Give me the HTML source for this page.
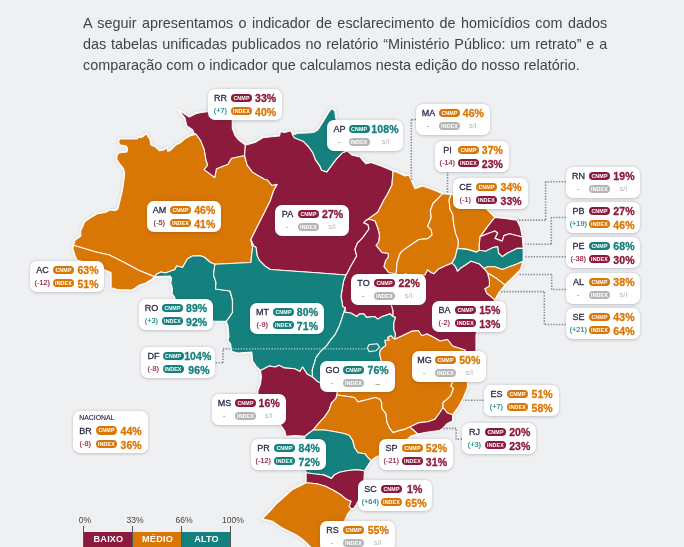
<!DOCTYPE html><html><head><meta charset="utf-8"><title>Mapa</title><style>
*{margin:0;padding:0;box-sizing:border-box}
html,body{width:684px;height:547px;overflow:hidden;background:#eef0f2}
body{position:relative;font-family:"Liberation Sans",sans-serif;color:#333}
.intro{position:absolute;left:82.9px;top:12.9px;width:524.2px;font-size:14.4px;line-height:21px;color:#404347;will-change:transform;text-align:justify}
.intro .l{display:block;white-space:nowrap;text-align:justify;text-align-last:justify}
.intro .l.last{text-align-last:left}
.map{position:absolute;left:0;top:0}
.lb{position:absolute;will-change:transform;background:#fff;border-radius:7px;box-shadow:0 .8px 3px rgba(55,55,75,.26)}
.lb span{position:absolute;white-space:nowrap;line-height:1}
.st{left:2.5px;width:20px;text-align:center;font-size:9px;color:#2c2a4a;letter-spacing:.05px;line-height:10px!important;-webkit-text-stroke:.28px #2c2a4a}
.pl{left:23px;width:21px;height:8.8px;border-radius:4.4px;color:#fff;font-size:5.3px;font-weight:bold;text-align:center;line-height:9px!important;letter-spacing:.15px}
.vl{right:1.4px;width:30px;text-align:center;padding-left:.1px;font-size:10.5px;font-weight:bold;letter-spacing:.1px;line-height:12px!important;-webkit-text-stroke:.3px currentColor}
.dl{left:2.3px;width:20px;text-align:center;font-size:7.3px;line-height:9px!important;-webkit-text-stroke:.15px currentColor}
.si{right:2px;width:30px;text-align:center;font-size:7.6px;color:#b7b7b7;line-height:9px!important}
.nat{left:6.2px;top:4.2px;font-size:6.9px;color:#2c2a4a;letter-spacing:0;-webkit-text-stroke:.15px #2c2a4a}
.lg{will-change:transform;position:absolute;font-size:8.6px;color:#444;top:514.6px;line-height:10px;width:30px;margin-left:-15px;text-align:center}
.tick{position:absolute;top:526px;width:1px;height:21px;background:#555}
.bar{will-change:transform;position:absolute;top:532px;height:15px;color:#fff;font-weight:bold;font-size:9.1px;line-height:14.2px;text-align:center;letter-spacing:.2px}
</style></head><body>
<div class="intro"><span class="l">A seguir apresentamos o indicador de esclarecimento de homic&iacute;dios com dados</span><span class="l">das tabelas unificadas publicados no relat&oacute;rio &ldquo;Minist&eacute;rio P&uacute;blico: um retrato&rdquo; e a</span><span class="l last">compara&ccedil;&atilde;o com o indicador que calculamos nesta edi&ccedil;&atilde;o do nosso relat&oacute;rio.</span></div>
<svg class="map" width="684" height="547" viewBox="0 0 684 547"><defs><filter id="sh" x="-5%" y="-5%" width="110%" height="110%"><feGaussianBlur stdDeviation="1.2"/></filter></defs><g fill="#c9ccd0" stroke="#c9ccd0" stroke-width="3.6" stroke-linejoin="round" filter="url(#sh)" opacity="0.55"><polygon points="73.5,245.3 75.2,240 81,236 80.5,231.3 82.8,226.6 84.6,221.9 90.4,217.8 97.4,213.7 105.6,212.5 109.1,210.2 112,210.2 115,210.8 117.9,209 119.6,202 121.4,195 122.5,190 124,180 124.6,173 123.4,168.3 120.5,164.8 117,160 117,155.4 118.7,153 126.9,151.9 127.5,148.4 126.3,146 119.9,144.9 118.7,142 119.3,139 129.2,139 137.4,139 138.6,136.7 140.4,137.6 142.7,136.7 146.2,133.8 148,136.7 149.7,139 150.9,144.9 155,146.6 159.6,150.7 163.7,150 166.7,147.8 167.8,151.3 170.2,150.7 176,144.9 180,143 185,138.8 191,135.4 196.3,134.5 200.7,140.6 204.2,149.4 206,160 207.7,165.2 204.2,169.6 214.7,177.5 216.5,168.7 227.9,164.3 231.4,158.2 244.6,155.5 247.2,165.2 252.5,172.2 264.7,179.2 267.5,180 271.9,185.3 277.2,184.4 273.7,190.5 270.2,201 263.2,215 256.1,229.1 250.9,239.6 252.6,247.5 251.8,253.7 250.9,262.5 235.1,263.3 214.9,264.2 210.5,262.5 204.4,257.2 200,255.6 192.5,256 187.5,258.8 182.5,267.5 180,266.7 176.6,266 174.9,269.6 171.3,270.8 165.5,273 160.8,272 157.3,273.7 154.4,276.6 138.6,270.2 123.4,262 109.4,255 95.1,251.7 83.4,248.2"/><polygon points="196.3,134.5 193.7,132.7 192.8,130 186.7,125.7 185,117.8 178,110 184,113.4 189.3,117 196.3,113.4 201.6,112.5 207.7,111.7 213,108 220,106 228,108 231,114 232.3,120.4 232.3,128.3 234.9,135.4 238.4,139.7 245.4,145 244.6,155.5 231.4,158.2 227.9,164.3 216.5,168.7 214.7,177.5 204.2,169.6 207.7,165.2 206,160 204.2,149.4 200.7,140.6"/><polygon points="73.5,245.3 72.9,248.8 75.2,255.8 77,260 87.5,263 95,265 105,270 111.1,272.5 111.1,287.7 117.5,289.5 131.6,290 135,288.3 138.6,285.4 145.6,283 151.5,279.6 154.4,276.6 138.6,270.2 123.4,262 109.4,255 95.1,251.7 83.4,248.2"/><polygon points="214.9,264.2 210.5,262.5 204.4,257.2 200,255.6 192.5,256 187.5,258.8 182.5,267.5 180,266.7 176.6,266 174.9,269.6 171.3,270.8 165.5,273 160.8,272 157.3,273.7 154.4,276.6 170.2,276 171.6,278.4 170.8,283 172.5,289 172,293.6 174.9,297.7 176,305 185,313 195,318 205,320 213.8,321 226.3,321.4 228.9,317.9 232.5,312.5 232.5,300 230,291 215.5,289 216,282.5 213.5,275"/><polygon points="245.4,145 247,144.7 255.8,142.1 262.8,137.7 271.6,136.8 279.5,136 280.4,131.6 284.7,132.5 290.9,130.7 292.6,135 294.4,137.7 303.2,141.2 308.4,146.5 312.8,152.6 315.4,159.6 319.8,165.8 321.6,170.2 326.8,171.9 331.2,165.8 336.5,158.8 342.6,152.6 347,150.9 352.3,155.3 360,157 362,159.5 366,163.8 371,162.5 381,166 393,171 392,185 387,195 383.9,200 377.7,212.3 369,218.4 366,220.5 363.7,222.8 368,224.6 369,229 362.8,237.7 357.5,243 355,249 356.7,256 350.5,266.7 347,273.7 346,275 320,273 270.2,269.5 264.9,266 259.6,260.7 257,255.4 256.1,247.5 253.5,245.8 250.9,239.6 256.1,229.1 263.2,215 270.2,201 273.7,190.5 277.2,184.4 271.9,185.3 267.5,180 264.7,179.2 252.5,172.2 247.2,165.2 244.6,155.5"/><polygon points="292.6,135 297.9,133.3 306.7,133 313.7,132.5 318,129.8 322.5,122.8 327.7,114 331.2,108.8 334.7,110.5 335.6,117.5 338,125 342,135 347,145 347,150.9 342.6,152.6 336.5,158.8 331.2,165.8 326.8,171.9 321.6,170.2 319.8,165.8 315.4,159.6 312.8,152.6 308.4,146.5 303.2,141.2 294.4,137.7"/><polygon points="393,171 397.5,172.5 405,176 408.8,175 415,188.8 422.5,186 433.8,190 442.5,193.8 436.5,200 433,203.5 430.4,210.5 431.2,217.5 427.7,226.3 431.2,229.8 432.1,235 427.7,238.6 419,239.5 413.7,243 402.3,250.9 399.6,254.4 397,263 396.1,273.7 389,272.8 383.9,266.7 385.6,260.5 388.2,257 388.2,253.5 382,252.6 376,245.3 378.6,242 379.5,235 377.7,228 375,221 369,219.3 366,220.5 369,218.4 377.7,212.3 383.9,200 387,195 392,185"/><polygon points="442.5,193.8 451,194.5 449.1,200 450,209.1 452.8,214.6 453.7,223.8 455.5,232.9 458.3,240.2 458.3,245.7 457.4,248.4 455,257.9 451.9,263.1 445,266 438.2,269.3 433.8,273.8 431.2,272.8 427.5,270 425,275 415,276 405,274 399,277 396.1,273.7 397,263 399.6,254.4 402.3,250.9 413.7,243 419,239.5 427.7,238.6 432.1,235 431.2,229.8 427.7,226.3 431.2,217.5 430.4,210.5 433,203.5 436.5,200"/><polygon points="451,194.5 460,197 470,202 478,205 485.7,208.2 494.8,217.4 488.4,225.6 483,232.9 480.2,236.6 479.3,243.9 479.3,250.3 476.6,252.1 467.4,249.4 457.4,248.4 458.3,245.7 458.3,240.2 455.5,232.9 453.7,223.8 452.8,214.6 450,209.1 449.1,200"/><polygon points="494.8,217.4 505,218.5 516.8,220.1 520.4,227.4 522.3,237 509.5,233.8 504,235.6 502.2,241.1 494.8,238.4 497.6,232.9 494.8,231 487.5,233.8 480.2,236.6 483,232.9 488.4,225.6"/><polygon points="480.2,236.6 487.5,233.8 494.8,231 497.6,232.9 494.8,238.4 502.2,241.1 504,235.6 509.5,233.8 522.3,237 523.2,248.4 516.8,248.4 507.6,253 502.2,256.7 498.5,253 497.6,246.6 493,247.5 485.7,251.2 479.3,250.3 479.3,243.9"/><polygon points="457.4,248.4 467.4,249.4 476.6,252.1 479.3,250.3 485.7,251.2 493,247.5 497.6,246.6 498.5,253 502.2,256.7 507.6,253 516.8,248.4 523.2,248.4 523.2,261.2 516.8,264 509.5,266.7 502.2,269.5 494.8,266.7 487.5,266.7 483.9,268.6 479.3,264 471.1,261.2 465.6,264.9 460.1,268.6 457.4,271.3 455.5,266.7 451.9,263.1 455,257.9"/><polygon points="483.9,268.6 487.5,266.7 494.8,266.7 502.2,269.5 509.5,266.7 516.8,264 523.2,261.2 520.4,269.5 513.1,276.8 504.9,285 496.7,278.6 487.5,273.1 485.7,270.4"/><polygon points="487.5,273.1 496.7,278.6 504.9,285 498.5,293.2 494.8,300 491.2,296.9 486.6,293.2 484.8,288.7 489.4,285.9 489.4,280.4"/><polygon points="399,277 405,274 415,276 425,275 427.5,270 431.2,272.8 433.8,273.8 438.2,269.3 445,266 451.9,263.1 455.5,266.7 457.4,271.3 460.1,268.6 465.6,264.9 471.1,261.2 479.3,264 483.9,268.6 485.7,270.4 487.5,273.1 489.4,280.4 489.4,285.9 484.8,288.7 486.6,293.2 491.2,296.9 494.8,300 491,306 484,315 478,327 476,335 476,350 473.8,362 470,372 467.5,381 458,379 462,372 468,360 465,350 452.5,346 447.5,339.5 440,341 434,337.5 427,334 421.8,335.8 418.2,330.5 411.2,331.4 402.5,335.8 394.6,339.3 395.4,334 393.7,329.6 393.7,322.6 395.4,317.4 392.8,316.5 392.8,310.4 391,304.2 394,295 397,285"/><polygon points="366,220.5 369,219.3 375,221 377.7,228 379.5,235 378.6,242 376,245.3 382,252.6 388.2,253.5 388.2,257 385.6,260.5 383.9,266.7 389,272.8 396.1,273.7 399,277 397,285 394,295 391,304.2 392.8,310.4 392.8,316.5 390.2,313.9 382.3,316.5 377.9,319.1 374.4,316.5 366.5,317.4 363.9,313.9 359.5,313.9 356.8,316.5 350.7,313 344.6,312.1 345.4,307.7 342.8,306.8 341,296.3 342,290 343.7,280.5 346,275 347,273.7 350.5,266.7 356.7,256 355,249 357.5,243 362.8,237.7 369,229 368,224.6 363.7,222.8"/><polygon points="214.9,264.2 235.1,263.3 250.9,262.5 251.8,253.7 252.6,247.5 250.9,239.6 253.5,245.8 256.1,247.5 257,255.4 259.6,260.7 264.9,266 270.2,269.5 320,273 346,275 343.7,280.5 342,290 341,296.3 342.8,306.8 345.4,307.7 342.8,315.6 339.3,326.1 334.9,334.9 330.5,340.2 327,345.4 320.2,351.8 315.8,357.9 314.9,361.4 312.3,369.6 312.5,377 307,374 302.6,367 300,371.4 294.7,368.8 284.2,367.9 278.9,365.3 275.4,367 269.3,366.1 260.5,370.5 256.1,366.1 252.6,360.9 251.8,352.1 237.7,353 231.6,351.2 230.7,344.2 228,340.7 228.9,336.3 228,325.8 226.3,321.4 228.9,317.9 232.5,312.5 232.5,300 230,291 215.5,289 216,282.5 213.5,275"/><polygon points="345.4,307.7 344.6,312.1 350.7,313 356.8,316.5 359.5,313.9 363.9,313.9 366.5,317.4 374.4,316.5 377.9,319.1 382.3,316.5 390.2,313.9 392.8,316.5 395.4,317.4 393.7,322.6 393.7,329.6 395.4,334 394.6,339.3 391,335.8 387.5,337.5 389.3,340.2 384.9,340.2 385.8,345.4 380.5,349.8 379.6,354.2 381.4,361.2 378,368 370,376 360,383 350,387 343,389 338,389 333,388.5 327,386.5 322,384 317.5,381.6 312.5,377 312.3,369.6 314.9,361.4 315.8,357.9 320.2,351.8 327,345.4 330.5,340.2 334.9,334.9 339.3,326.1 342.8,315.6"/><polygon points="260.5,370.5 269.3,366.1 275.4,367 278.9,365.3 284.2,367.9 294.7,368.8 300,371.4 302.6,367 307,374 312.5,377 317.5,381.6 322,384 327,386.5 333,388.5 338,389 336.8,395 336,398.4 331.6,402.8 328.9,410.7 324.6,416.8 317.5,424.7 313.2,430 309,433 305,436.2 296,435.5 286,436.2 284.8,431 279.8,423.8 270,418 262,410 258,400 257.9,390.7 260.5,383.7 261.4,376.7"/><polygon points="394.6,339.3 402.5,335.8 411.2,331.4 418.2,330.5 421.8,335.8 427,334 434,337.5 440,341 447.5,339.5 452.5,346 465,350 468,360 462,372 458,379 452.6,382.3 450.9,385.8 453.5,388.4 450.9,395.4 446.5,399.8 443,402.5 443,407.7 439.5,413 435.1,419.1 428,421.8 419.3,422.6 409.6,427 405.3,429.1 398.2,430.9 393,432.6 389.5,428.2 386.8,422.1 386,414.2 381.6,408.1 381.6,402.8 379.8,399.3 375.4,397.5 364.9,400.2 357.9,401.9 354.4,397.5 343,395.8 336.8,395 338,389 343,389 350,387 360,383 370,376 378,368 381.4,361.2 379.6,354.2 380.5,349.8 385.8,345.4 384.9,340.2 389.3,340.2 387.5,337.5 391,335.8"/><polygon points="443,407.7 443,402.5 446.5,399.8 450.9,395.4 453.5,388.4 450.9,385.8 452.6,382.3 458,379 467.5,381 467.5,387.5 463.2,398 457.9,407.7 452.6,414.7 447.4,413"/><polygon points="409.6,427 419.3,422.6 428,421.8 435.1,419.1 439.5,413 443,407.7 447.4,413 452.6,414.7 452.6,420.9 447.4,423.5 442.1,428.8 439.5,430.5 426.3,432.3 417.5,434 414,430.5"/><polygon points="336.8,395 343,395.8 354.4,397.5 357.9,401.9 364.9,400.2 375.4,397.5 379.8,399.3 381.6,402.8 381.6,408.1 386,414.2 386.8,422.1 389.5,428.2 393,432.6 398.2,430.9 405.3,429.1 409.6,427 414,430.5 417.5,434 411,436 405,441 395,448 385,453 375.4,457.2 371,460.7 367.5,457.2 364.9,453.7 357.9,452.8 354.4,447.5 352.6,440.5 349.1,435.3 343.9,433.5 335.1,431.8 324.6,430 313.2,430 317.5,424.7 324.6,416.8 328.9,410.7 331.6,402.8 336,398.4"/><polygon points="305,436.2 309,433 313.2,430 324.6,430 335.1,431.8 343.9,433.5 349.1,435.3 352.6,440.5 354.4,447.5 357.9,452.8 364.9,453.7 367.5,457.2 371,460.7 367.5,466 364.5,470.8 357,469.6 348.2,470.5 339.5,472.3 334.2,474.9 331.6,478.4 323.7,474.9 314.9,474 306.1,472.8 305,465 305,455 304,445"/><polygon points="306.1,472.8 314.9,474 323.7,474.9 331.6,478.4 334.2,474.9 339.5,472.3 348.2,470.5 357,469.6 364.5,470.8 364,479.3 362,490 358.5,500 356.1,504.7 353.8,508.4 351.5,508.8 349.1,506.5 350.9,501.2 346.5,499.5 341.2,495.1 334.2,490.7 325.4,486.3 316.7,483.7 306.1,482.8"/><polygon points="306.1,482.8 316.7,483.7 325.4,486.3 334.2,490.7 341.2,495.1 346.5,499.5 350.9,501.2 349.1,506.5 351.5,508.8 347.4,514.4 344.7,520.5 338,530 332,542 327,560 312,560 310.5,547 306.1,542.5 300.9,538 295.6,534.6 286.8,530.2 281.6,527.5 278.9,525.8 272.8,521.4 262.3,518.8 271,510 276.3,503.9 283.3,497.7 292.1,489.8 300.9,485.4"/></g><g fill="#fbfbfc" stroke="#fbfbfc" stroke-width="2.6" stroke-linejoin="round"><polygon points="73.5,245.3 75.2,240 81,236 80.5,231.3 82.8,226.6 84.6,221.9 90.4,217.8 97.4,213.7 105.6,212.5 109.1,210.2 112,210.2 115,210.8 117.9,209 119.6,202 121.4,195 122.5,190 124,180 124.6,173 123.4,168.3 120.5,164.8 117,160 117,155.4 118.7,153 126.9,151.9 127.5,148.4 126.3,146 119.9,144.9 118.7,142 119.3,139 129.2,139 137.4,139 138.6,136.7 140.4,137.6 142.7,136.7 146.2,133.8 148,136.7 149.7,139 150.9,144.9 155,146.6 159.6,150.7 163.7,150 166.7,147.8 167.8,151.3 170.2,150.7 176,144.9 180,143 185,138.8 191,135.4 196.3,134.5 200.7,140.6 204.2,149.4 206,160 207.7,165.2 204.2,169.6 214.7,177.5 216.5,168.7 227.9,164.3 231.4,158.2 244.6,155.5 247.2,165.2 252.5,172.2 264.7,179.2 267.5,180 271.9,185.3 277.2,184.4 273.7,190.5 270.2,201 263.2,215 256.1,229.1 250.9,239.6 252.6,247.5 251.8,253.7 250.9,262.5 235.1,263.3 214.9,264.2 210.5,262.5 204.4,257.2 200,255.6 192.5,256 187.5,258.8 182.5,267.5 180,266.7 176.6,266 174.9,269.6 171.3,270.8 165.5,273 160.8,272 157.3,273.7 154.4,276.6 138.6,270.2 123.4,262 109.4,255 95.1,251.7 83.4,248.2"/><polygon points="196.3,134.5 193.7,132.7 192.8,130 186.7,125.7 185,117.8 178,110 184,113.4 189.3,117 196.3,113.4 201.6,112.5 207.7,111.7 213,108 220,106 228,108 231,114 232.3,120.4 232.3,128.3 234.9,135.4 238.4,139.7 245.4,145 244.6,155.5 231.4,158.2 227.9,164.3 216.5,168.7 214.7,177.5 204.2,169.6 207.7,165.2 206,160 204.2,149.4 200.7,140.6"/><polygon points="73.5,245.3 72.9,248.8 75.2,255.8 77,260 87.5,263 95,265 105,270 111.1,272.5 111.1,287.7 117.5,289.5 131.6,290 135,288.3 138.6,285.4 145.6,283 151.5,279.6 154.4,276.6 138.6,270.2 123.4,262 109.4,255 95.1,251.7 83.4,248.2"/><polygon points="214.9,264.2 210.5,262.5 204.4,257.2 200,255.6 192.5,256 187.5,258.8 182.5,267.5 180,266.7 176.6,266 174.9,269.6 171.3,270.8 165.5,273 160.8,272 157.3,273.7 154.4,276.6 170.2,276 171.6,278.4 170.8,283 172.5,289 172,293.6 174.9,297.7 176,305 185,313 195,318 205,320 213.8,321 226.3,321.4 228.9,317.9 232.5,312.5 232.5,300 230,291 215.5,289 216,282.5 213.5,275"/><polygon points="245.4,145 247,144.7 255.8,142.1 262.8,137.7 271.6,136.8 279.5,136 280.4,131.6 284.7,132.5 290.9,130.7 292.6,135 294.4,137.7 303.2,141.2 308.4,146.5 312.8,152.6 315.4,159.6 319.8,165.8 321.6,170.2 326.8,171.9 331.2,165.8 336.5,158.8 342.6,152.6 347,150.9 352.3,155.3 360,157 362,159.5 366,163.8 371,162.5 381,166 393,171 392,185 387,195 383.9,200 377.7,212.3 369,218.4 366,220.5 363.7,222.8 368,224.6 369,229 362.8,237.7 357.5,243 355,249 356.7,256 350.5,266.7 347,273.7 346,275 320,273 270.2,269.5 264.9,266 259.6,260.7 257,255.4 256.1,247.5 253.5,245.8 250.9,239.6 256.1,229.1 263.2,215 270.2,201 273.7,190.5 277.2,184.4 271.9,185.3 267.5,180 264.7,179.2 252.5,172.2 247.2,165.2 244.6,155.5"/><polygon points="292.6,135 297.9,133.3 306.7,133 313.7,132.5 318,129.8 322.5,122.8 327.7,114 331.2,108.8 334.7,110.5 335.6,117.5 338,125 342,135 347,145 347,150.9 342.6,152.6 336.5,158.8 331.2,165.8 326.8,171.9 321.6,170.2 319.8,165.8 315.4,159.6 312.8,152.6 308.4,146.5 303.2,141.2 294.4,137.7"/><polygon points="393,171 397.5,172.5 405,176 408.8,175 415,188.8 422.5,186 433.8,190 442.5,193.8 436.5,200 433,203.5 430.4,210.5 431.2,217.5 427.7,226.3 431.2,229.8 432.1,235 427.7,238.6 419,239.5 413.7,243 402.3,250.9 399.6,254.4 397,263 396.1,273.7 389,272.8 383.9,266.7 385.6,260.5 388.2,257 388.2,253.5 382,252.6 376,245.3 378.6,242 379.5,235 377.7,228 375,221 369,219.3 366,220.5 369,218.4 377.7,212.3 383.9,200 387,195 392,185"/><polygon points="442.5,193.8 451,194.5 449.1,200 450,209.1 452.8,214.6 453.7,223.8 455.5,232.9 458.3,240.2 458.3,245.7 457.4,248.4 455,257.9 451.9,263.1 445,266 438.2,269.3 433.8,273.8 431.2,272.8 427.5,270 425,275 415,276 405,274 399,277 396.1,273.7 397,263 399.6,254.4 402.3,250.9 413.7,243 419,239.5 427.7,238.6 432.1,235 431.2,229.8 427.7,226.3 431.2,217.5 430.4,210.5 433,203.5 436.5,200"/><polygon points="451,194.5 460,197 470,202 478,205 485.7,208.2 494.8,217.4 488.4,225.6 483,232.9 480.2,236.6 479.3,243.9 479.3,250.3 476.6,252.1 467.4,249.4 457.4,248.4 458.3,245.7 458.3,240.2 455.5,232.9 453.7,223.8 452.8,214.6 450,209.1 449.1,200"/><polygon points="494.8,217.4 505,218.5 516.8,220.1 520.4,227.4 522.3,237 509.5,233.8 504,235.6 502.2,241.1 494.8,238.4 497.6,232.9 494.8,231 487.5,233.8 480.2,236.6 483,232.9 488.4,225.6"/><polygon points="480.2,236.6 487.5,233.8 494.8,231 497.6,232.9 494.8,238.4 502.2,241.1 504,235.6 509.5,233.8 522.3,237 523.2,248.4 516.8,248.4 507.6,253 502.2,256.7 498.5,253 497.6,246.6 493,247.5 485.7,251.2 479.3,250.3 479.3,243.9"/><polygon points="457.4,248.4 467.4,249.4 476.6,252.1 479.3,250.3 485.7,251.2 493,247.5 497.6,246.6 498.5,253 502.2,256.7 507.6,253 516.8,248.4 523.2,248.4 523.2,261.2 516.8,264 509.5,266.7 502.2,269.5 494.8,266.7 487.5,266.7 483.9,268.6 479.3,264 471.1,261.2 465.6,264.9 460.1,268.6 457.4,271.3 455.5,266.7 451.9,263.1 455,257.9"/><polygon points="483.9,268.6 487.5,266.7 494.8,266.7 502.2,269.5 509.5,266.7 516.8,264 523.2,261.2 520.4,269.5 513.1,276.8 504.9,285 496.7,278.6 487.5,273.1 485.7,270.4"/><polygon points="487.5,273.1 496.7,278.6 504.9,285 498.5,293.2 494.8,300 491.2,296.9 486.6,293.2 484.8,288.7 489.4,285.9 489.4,280.4"/><polygon points="399,277 405,274 415,276 425,275 427.5,270 431.2,272.8 433.8,273.8 438.2,269.3 445,266 451.9,263.1 455.5,266.7 457.4,271.3 460.1,268.6 465.6,264.9 471.1,261.2 479.3,264 483.9,268.6 485.7,270.4 487.5,273.1 489.4,280.4 489.4,285.9 484.8,288.7 486.6,293.2 491.2,296.9 494.8,300 491,306 484,315 478,327 476,335 476,350 473.8,362 470,372 467.5,381 458,379 462,372 468,360 465,350 452.5,346 447.5,339.5 440,341 434,337.5 427,334 421.8,335.8 418.2,330.5 411.2,331.4 402.5,335.8 394.6,339.3 395.4,334 393.7,329.6 393.7,322.6 395.4,317.4 392.8,316.5 392.8,310.4 391,304.2 394,295 397,285"/><polygon points="366,220.5 369,219.3 375,221 377.7,228 379.5,235 378.6,242 376,245.3 382,252.6 388.2,253.5 388.2,257 385.6,260.5 383.9,266.7 389,272.8 396.1,273.7 399,277 397,285 394,295 391,304.2 392.8,310.4 392.8,316.5 390.2,313.9 382.3,316.5 377.9,319.1 374.4,316.5 366.5,317.4 363.9,313.9 359.5,313.9 356.8,316.5 350.7,313 344.6,312.1 345.4,307.7 342.8,306.8 341,296.3 342,290 343.7,280.5 346,275 347,273.7 350.5,266.7 356.7,256 355,249 357.5,243 362.8,237.7 369,229 368,224.6 363.7,222.8"/><polygon points="214.9,264.2 235.1,263.3 250.9,262.5 251.8,253.7 252.6,247.5 250.9,239.6 253.5,245.8 256.1,247.5 257,255.4 259.6,260.7 264.9,266 270.2,269.5 320,273 346,275 343.7,280.5 342,290 341,296.3 342.8,306.8 345.4,307.7 342.8,315.6 339.3,326.1 334.9,334.9 330.5,340.2 327,345.4 320.2,351.8 315.8,357.9 314.9,361.4 312.3,369.6 312.5,377 307,374 302.6,367 300,371.4 294.7,368.8 284.2,367.9 278.9,365.3 275.4,367 269.3,366.1 260.5,370.5 256.1,366.1 252.6,360.9 251.8,352.1 237.7,353 231.6,351.2 230.7,344.2 228,340.7 228.9,336.3 228,325.8 226.3,321.4 228.9,317.9 232.5,312.5 232.5,300 230,291 215.5,289 216,282.5 213.5,275"/><polygon points="345.4,307.7 344.6,312.1 350.7,313 356.8,316.5 359.5,313.9 363.9,313.9 366.5,317.4 374.4,316.5 377.9,319.1 382.3,316.5 390.2,313.9 392.8,316.5 395.4,317.4 393.7,322.6 393.7,329.6 395.4,334 394.6,339.3 391,335.8 387.5,337.5 389.3,340.2 384.9,340.2 385.8,345.4 380.5,349.8 379.6,354.2 381.4,361.2 378,368 370,376 360,383 350,387 343,389 338,389 333,388.5 327,386.5 322,384 317.5,381.6 312.5,377 312.3,369.6 314.9,361.4 315.8,357.9 320.2,351.8 327,345.4 330.5,340.2 334.9,334.9 339.3,326.1 342.8,315.6"/><polygon points="260.5,370.5 269.3,366.1 275.4,367 278.9,365.3 284.2,367.9 294.7,368.8 300,371.4 302.6,367 307,374 312.5,377 317.5,381.6 322,384 327,386.5 333,388.5 338,389 336.8,395 336,398.4 331.6,402.8 328.9,410.7 324.6,416.8 317.5,424.7 313.2,430 309,433 305,436.2 296,435.5 286,436.2 284.8,431 279.8,423.8 270,418 262,410 258,400 257.9,390.7 260.5,383.7 261.4,376.7"/><polygon points="394.6,339.3 402.5,335.8 411.2,331.4 418.2,330.5 421.8,335.8 427,334 434,337.5 440,341 447.5,339.5 452.5,346 465,350 468,360 462,372 458,379 452.6,382.3 450.9,385.8 453.5,388.4 450.9,395.4 446.5,399.8 443,402.5 443,407.7 439.5,413 435.1,419.1 428,421.8 419.3,422.6 409.6,427 405.3,429.1 398.2,430.9 393,432.6 389.5,428.2 386.8,422.1 386,414.2 381.6,408.1 381.6,402.8 379.8,399.3 375.4,397.5 364.9,400.2 357.9,401.9 354.4,397.5 343,395.8 336.8,395 338,389 343,389 350,387 360,383 370,376 378,368 381.4,361.2 379.6,354.2 380.5,349.8 385.8,345.4 384.9,340.2 389.3,340.2 387.5,337.5 391,335.8"/><polygon points="443,407.7 443,402.5 446.5,399.8 450.9,395.4 453.5,388.4 450.9,385.8 452.6,382.3 458,379 467.5,381 467.5,387.5 463.2,398 457.9,407.7 452.6,414.7 447.4,413"/><polygon points="409.6,427 419.3,422.6 428,421.8 435.1,419.1 439.5,413 443,407.7 447.4,413 452.6,414.7 452.6,420.9 447.4,423.5 442.1,428.8 439.5,430.5 426.3,432.3 417.5,434 414,430.5"/><polygon points="336.8,395 343,395.8 354.4,397.5 357.9,401.9 364.9,400.2 375.4,397.5 379.8,399.3 381.6,402.8 381.6,408.1 386,414.2 386.8,422.1 389.5,428.2 393,432.6 398.2,430.9 405.3,429.1 409.6,427 414,430.5 417.5,434 411,436 405,441 395,448 385,453 375.4,457.2 371,460.7 367.5,457.2 364.9,453.7 357.9,452.8 354.4,447.5 352.6,440.5 349.1,435.3 343.9,433.5 335.1,431.8 324.6,430 313.2,430 317.5,424.7 324.6,416.8 328.9,410.7 331.6,402.8 336,398.4"/><polygon points="305,436.2 309,433 313.2,430 324.6,430 335.1,431.8 343.9,433.5 349.1,435.3 352.6,440.5 354.4,447.5 357.9,452.8 364.9,453.7 367.5,457.2 371,460.7 367.5,466 364.5,470.8 357,469.6 348.2,470.5 339.5,472.3 334.2,474.9 331.6,478.4 323.7,474.9 314.9,474 306.1,472.8 305,465 305,455 304,445"/><polygon points="306.1,472.8 314.9,474 323.7,474.9 331.6,478.4 334.2,474.9 339.5,472.3 348.2,470.5 357,469.6 364.5,470.8 364,479.3 362,490 358.5,500 356.1,504.7 353.8,508.4 351.5,508.8 349.1,506.5 350.9,501.2 346.5,499.5 341.2,495.1 334.2,490.7 325.4,486.3 316.7,483.7 306.1,482.8"/><polygon points="306.1,482.8 316.7,483.7 325.4,486.3 334.2,490.7 341.2,495.1 346.5,499.5 350.9,501.2 349.1,506.5 351.5,508.8 347.4,514.4 344.7,520.5 338,530 332,542 327,560 312,560 310.5,547 306.1,542.5 300.9,538 295.6,534.6 286.8,530.2 281.6,527.5 278.9,525.8 272.8,521.4 262.3,518.8 271,510 276.3,503.9 283.3,497.7 292.1,489.8 300.9,485.4"/></g><g stroke="#fdf6f2" stroke-width="1.15" stroke-linejoin="round"><polygon fill="#d97706" points="73.5,245.3 75.2,240 81,236 80.5,231.3 82.8,226.6 84.6,221.9 90.4,217.8 97.4,213.7 105.6,212.5 109.1,210.2 112,210.2 115,210.8 117.9,209 119.6,202 121.4,195 122.5,190 124,180 124.6,173 123.4,168.3 120.5,164.8 117,160 117,155.4 118.7,153 126.9,151.9 127.5,148.4 126.3,146 119.9,144.9 118.7,142 119.3,139 129.2,139 137.4,139 138.6,136.7 140.4,137.6 142.7,136.7 146.2,133.8 148,136.7 149.7,139 150.9,144.9 155,146.6 159.6,150.7 163.7,150 166.7,147.8 167.8,151.3 170.2,150.7 176,144.9 180,143 185,138.8 191,135.4 196.3,134.5 200.7,140.6 204.2,149.4 206,160 207.7,165.2 204.2,169.6 214.7,177.5 216.5,168.7 227.9,164.3 231.4,158.2 244.6,155.5 247.2,165.2 252.5,172.2 264.7,179.2 267.5,180 271.9,185.3 277.2,184.4 273.7,190.5 270.2,201 263.2,215 256.1,229.1 250.9,239.6 252.6,247.5 251.8,253.7 250.9,262.5 235.1,263.3 214.9,264.2 210.5,262.5 204.4,257.2 200,255.6 192.5,256 187.5,258.8 182.5,267.5 180,266.7 176.6,266 174.9,269.6 171.3,270.8 165.5,273 160.8,272 157.3,273.7 154.4,276.6 138.6,270.2 123.4,262 109.4,255 95.1,251.7 83.4,248.2"/><polygon fill="#8c1a3c" points="196.3,134.5 193.7,132.7 192.8,130 186.7,125.7 185,117.8 178,110 184,113.4 189.3,117 196.3,113.4 201.6,112.5 207.7,111.7 213,108 220,106 228,108 231,114 232.3,120.4 232.3,128.3 234.9,135.4 238.4,139.7 245.4,145 244.6,155.5 231.4,158.2 227.9,164.3 216.5,168.7 214.7,177.5 204.2,169.6 207.7,165.2 206,160 204.2,149.4 200.7,140.6"/><polygon fill="#d97706" points="73.5,245.3 72.9,248.8 75.2,255.8 77,260 87.5,263 95,265 105,270 111.1,272.5 111.1,287.7 117.5,289.5 131.6,290 135,288.3 138.6,285.4 145.6,283 151.5,279.6 154.4,276.6 138.6,270.2 123.4,262 109.4,255 95.1,251.7 83.4,248.2"/><polygon fill="#14817f" points="214.9,264.2 210.5,262.5 204.4,257.2 200,255.6 192.5,256 187.5,258.8 182.5,267.5 180,266.7 176.6,266 174.9,269.6 171.3,270.8 165.5,273 160.8,272 157.3,273.7 154.4,276.6 170.2,276 171.6,278.4 170.8,283 172.5,289 172,293.6 174.9,297.7 176,305 185,313 195,318 205,320 213.8,321 226.3,321.4 228.9,317.9 232.5,312.5 232.5,300 230,291 215.5,289 216,282.5 213.5,275"/><polygon fill="#8c1a3c" points="245.4,145 247,144.7 255.8,142.1 262.8,137.7 271.6,136.8 279.5,136 280.4,131.6 284.7,132.5 290.9,130.7 292.6,135 294.4,137.7 303.2,141.2 308.4,146.5 312.8,152.6 315.4,159.6 319.8,165.8 321.6,170.2 326.8,171.9 331.2,165.8 336.5,158.8 342.6,152.6 347,150.9 352.3,155.3 360,157 362,159.5 366,163.8 371,162.5 381,166 393,171 392,185 387,195 383.9,200 377.7,212.3 369,218.4 366,220.5 363.7,222.8 368,224.6 369,229 362.8,237.7 357.5,243 355,249 356.7,256 350.5,266.7 347,273.7 346,275 320,273 270.2,269.5 264.9,266 259.6,260.7 257,255.4 256.1,247.5 253.5,245.8 250.9,239.6 256.1,229.1 263.2,215 270.2,201 273.7,190.5 277.2,184.4 271.9,185.3 267.5,180 264.7,179.2 252.5,172.2 247.2,165.2 244.6,155.5"/><polygon fill="#14817f" points="292.6,135 297.9,133.3 306.7,133 313.7,132.5 318,129.8 322.5,122.8 327.7,114 331.2,108.8 334.7,110.5 335.6,117.5 338,125 342,135 347,145 347,150.9 342.6,152.6 336.5,158.8 331.2,165.8 326.8,171.9 321.6,170.2 319.8,165.8 315.4,159.6 312.8,152.6 308.4,146.5 303.2,141.2 294.4,137.7"/><polygon fill="#d97706" points="393,171 397.5,172.5 405,176 408.8,175 415,188.8 422.5,186 433.8,190 442.5,193.8 436.5,200 433,203.5 430.4,210.5 431.2,217.5 427.7,226.3 431.2,229.8 432.1,235 427.7,238.6 419,239.5 413.7,243 402.3,250.9 399.6,254.4 397,263 396.1,273.7 389,272.8 383.9,266.7 385.6,260.5 388.2,257 388.2,253.5 382,252.6 376,245.3 378.6,242 379.5,235 377.7,228 375,221 369,219.3 366,220.5 369,218.4 377.7,212.3 383.9,200 387,195 392,185"/><polygon fill="#d97706" points="442.5,193.8 451,194.5 449.1,200 450,209.1 452.8,214.6 453.7,223.8 455.5,232.9 458.3,240.2 458.3,245.7 457.4,248.4 455,257.9 451.9,263.1 445,266 438.2,269.3 433.8,273.8 431.2,272.8 427.5,270 425,275 415,276 405,274 399,277 396.1,273.7 397,263 399.6,254.4 402.3,250.9 413.7,243 419,239.5 427.7,238.6 432.1,235 431.2,229.8 427.7,226.3 431.2,217.5 430.4,210.5 433,203.5 436.5,200"/><polygon fill="#d97706" points="451,194.5 460,197 470,202 478,205 485.7,208.2 494.8,217.4 488.4,225.6 483,232.9 480.2,236.6 479.3,243.9 479.3,250.3 476.6,252.1 467.4,249.4 457.4,248.4 458.3,245.7 458.3,240.2 455.5,232.9 453.7,223.8 452.8,214.6 450,209.1 449.1,200"/><polygon fill="#8c1a3c" points="494.8,217.4 505,218.5 516.8,220.1 520.4,227.4 522.3,237 509.5,233.8 504,235.6 502.2,241.1 494.8,238.4 497.6,232.9 494.8,231 487.5,233.8 480.2,236.6 483,232.9 488.4,225.6"/><polygon fill="#8c1a3c" points="480.2,236.6 487.5,233.8 494.8,231 497.6,232.9 494.8,238.4 502.2,241.1 504,235.6 509.5,233.8 522.3,237 523.2,248.4 516.8,248.4 507.6,253 502.2,256.7 498.5,253 497.6,246.6 493,247.5 485.7,251.2 479.3,250.3 479.3,243.9"/><polygon fill="#14817f" points="457.4,248.4 467.4,249.4 476.6,252.1 479.3,250.3 485.7,251.2 493,247.5 497.6,246.6 498.5,253 502.2,256.7 507.6,253 516.8,248.4 523.2,248.4 523.2,261.2 516.8,264 509.5,266.7 502.2,269.5 494.8,266.7 487.5,266.7 483.9,268.6 479.3,264 471.1,261.2 465.6,264.9 460.1,268.6 457.4,271.3 455.5,266.7 451.9,263.1 455,257.9"/><polygon fill="#d97706" points="483.9,268.6 487.5,266.7 494.8,266.7 502.2,269.5 509.5,266.7 516.8,264 523.2,261.2 520.4,269.5 513.1,276.8 504.9,285 496.7,278.6 487.5,273.1 485.7,270.4"/><polygon fill="#d97706" points="487.5,273.1 496.7,278.6 504.9,285 498.5,293.2 494.8,300 491.2,296.9 486.6,293.2 484.8,288.7 489.4,285.9 489.4,280.4"/><polygon fill="#8c1a3c" points="399,277 405,274 415,276 425,275 427.5,270 431.2,272.8 433.8,273.8 438.2,269.3 445,266 451.9,263.1 455.5,266.7 457.4,271.3 460.1,268.6 465.6,264.9 471.1,261.2 479.3,264 483.9,268.6 485.7,270.4 487.5,273.1 489.4,280.4 489.4,285.9 484.8,288.7 486.6,293.2 491.2,296.9 494.8,300 491,306 484,315 478,327 476,335 476,350 473.8,362 470,372 467.5,381 458,379 462,372 468,360 465,350 452.5,346 447.5,339.5 440,341 434,337.5 427,334 421.8,335.8 418.2,330.5 411.2,331.4 402.5,335.8 394.6,339.3 395.4,334 393.7,329.6 393.7,322.6 395.4,317.4 392.8,316.5 392.8,310.4 391,304.2 394,295 397,285"/><polygon fill="#8c1a3c" points="366,220.5 369,219.3 375,221 377.7,228 379.5,235 378.6,242 376,245.3 382,252.6 388.2,253.5 388.2,257 385.6,260.5 383.9,266.7 389,272.8 396.1,273.7 399,277 397,285 394,295 391,304.2 392.8,310.4 392.8,316.5 390.2,313.9 382.3,316.5 377.9,319.1 374.4,316.5 366.5,317.4 363.9,313.9 359.5,313.9 356.8,316.5 350.7,313 344.6,312.1 345.4,307.7 342.8,306.8 341,296.3 342,290 343.7,280.5 346,275 347,273.7 350.5,266.7 356.7,256 355,249 357.5,243 362.8,237.7 369,229 368,224.6 363.7,222.8"/><polygon fill="#14817f" points="214.9,264.2 235.1,263.3 250.9,262.5 251.8,253.7 252.6,247.5 250.9,239.6 253.5,245.8 256.1,247.5 257,255.4 259.6,260.7 264.9,266 270.2,269.5 320,273 346,275 343.7,280.5 342,290 341,296.3 342.8,306.8 345.4,307.7 342.8,315.6 339.3,326.1 334.9,334.9 330.5,340.2 327,345.4 320.2,351.8 315.8,357.9 314.9,361.4 312.3,369.6 312.5,377 307,374 302.6,367 300,371.4 294.7,368.8 284.2,367.9 278.9,365.3 275.4,367 269.3,366.1 260.5,370.5 256.1,366.1 252.6,360.9 251.8,352.1 237.7,353 231.6,351.2 230.7,344.2 228,340.7 228.9,336.3 228,325.8 226.3,321.4 228.9,317.9 232.5,312.5 232.5,300 230,291 215.5,289 216,282.5 213.5,275"/><polygon fill="#14817f" points="345.4,307.7 344.6,312.1 350.7,313 356.8,316.5 359.5,313.9 363.9,313.9 366.5,317.4 374.4,316.5 377.9,319.1 382.3,316.5 390.2,313.9 392.8,316.5 395.4,317.4 393.7,322.6 393.7,329.6 395.4,334 394.6,339.3 391,335.8 387.5,337.5 389.3,340.2 384.9,340.2 385.8,345.4 380.5,349.8 379.6,354.2 381.4,361.2 378,368 370,376 360,383 350,387 343,389 338,389 333,388.5 327,386.5 322,384 317.5,381.6 312.5,377 312.3,369.6 314.9,361.4 315.8,357.9 320.2,351.8 327,345.4 330.5,340.2 334.9,334.9 339.3,326.1 342.8,315.6"/><polygon fill="#8c1a3c" points="260.5,370.5 269.3,366.1 275.4,367 278.9,365.3 284.2,367.9 294.7,368.8 300,371.4 302.6,367 307,374 312.5,377 317.5,381.6 322,384 327,386.5 333,388.5 338,389 336.8,395 336,398.4 331.6,402.8 328.9,410.7 324.6,416.8 317.5,424.7 313.2,430 309,433 305,436.2 296,435.5 286,436.2 284.8,431 279.8,423.8 270,418 262,410 258,400 257.9,390.7 260.5,383.7 261.4,376.7"/><polygon fill="#d97706" points="394.6,339.3 402.5,335.8 411.2,331.4 418.2,330.5 421.8,335.8 427,334 434,337.5 440,341 447.5,339.5 452.5,346 465,350 468,360 462,372 458,379 452.6,382.3 450.9,385.8 453.5,388.4 450.9,395.4 446.5,399.8 443,402.5 443,407.7 439.5,413 435.1,419.1 428,421.8 419.3,422.6 409.6,427 405.3,429.1 398.2,430.9 393,432.6 389.5,428.2 386.8,422.1 386,414.2 381.6,408.1 381.6,402.8 379.8,399.3 375.4,397.5 364.9,400.2 357.9,401.9 354.4,397.5 343,395.8 336.8,395 338,389 343,389 350,387 360,383 370,376 378,368 381.4,361.2 379.6,354.2 380.5,349.8 385.8,345.4 384.9,340.2 389.3,340.2 387.5,337.5 391,335.8"/><polygon fill="#d97706" points="443,407.7 443,402.5 446.5,399.8 450.9,395.4 453.5,388.4 450.9,385.8 452.6,382.3 458,379 467.5,381 467.5,387.5 463.2,398 457.9,407.7 452.6,414.7 447.4,413"/><polygon fill="#8c1a3c" points="409.6,427 419.3,422.6 428,421.8 435.1,419.1 439.5,413 443,407.7 447.4,413 452.6,414.7 452.6,420.9 447.4,423.5 442.1,428.8 439.5,430.5 426.3,432.3 417.5,434 414,430.5"/><polygon fill="#d97706" points="336.8,395 343,395.8 354.4,397.5 357.9,401.9 364.9,400.2 375.4,397.5 379.8,399.3 381.6,402.8 381.6,408.1 386,414.2 386.8,422.1 389.5,428.2 393,432.6 398.2,430.9 405.3,429.1 409.6,427 414,430.5 417.5,434 411,436 405,441 395,448 385,453 375.4,457.2 371,460.7 367.5,457.2 364.9,453.7 357.9,452.8 354.4,447.5 352.6,440.5 349.1,435.3 343.9,433.5 335.1,431.8 324.6,430 313.2,430 317.5,424.7 324.6,416.8 328.9,410.7 331.6,402.8 336,398.4"/><polygon fill="#14817f" points="305,436.2 309,433 313.2,430 324.6,430 335.1,431.8 343.9,433.5 349.1,435.3 352.6,440.5 354.4,447.5 357.9,452.8 364.9,453.7 367.5,457.2 371,460.7 367.5,466 364.5,470.8 357,469.6 348.2,470.5 339.5,472.3 334.2,474.9 331.6,478.4 323.7,474.9 314.9,474 306.1,472.8 305,465 305,455 304,445"/><polygon fill="#8c1a3c" points="306.1,472.8 314.9,474 323.7,474.9 331.6,478.4 334.2,474.9 339.5,472.3 348.2,470.5 357,469.6 364.5,470.8 364,479.3 362,490 358.5,500 356.1,504.7 353.8,508.4 351.5,508.8 349.1,506.5 350.9,501.2 346.5,499.5 341.2,495.1 334.2,490.7 325.4,486.3 316.7,483.7 306.1,482.8"/><polygon fill="#d97706" points="306.1,482.8 316.7,483.7 325.4,486.3 334.2,490.7 341.2,495.1 346.5,499.5 350.9,501.2 349.1,506.5 351.5,508.8 347.4,514.4 344.7,520.5 338,530 332,542 327,560 312,560 310.5,547 306.1,542.5 300.9,538 295.6,534.6 286.8,530.2 281.6,527.5 278.9,525.8 272.8,521.4 262.3,518.8 271,510 276.3,503.9 283.3,497.7 292.1,489.8 300.9,485.4"/><polygon fill="#14817f" points="369.1,344.6 377,343.7 379.6,347.2 376.1,350.7 369.1,351.6 367.4,348.1"/></g><g fill="none" stroke="#83859a" stroke-width="1.6" stroke-dasharray="1.35 1.45"><line x1="416" y1="119.5" x2="411.3" y2="119.5"/><line x1="411.3" y1="119.5" x2="411.3" y2="180"/><line x1="447.5" y1="171.5" x2="447.5" y2="192.5"/><line x1="565.9" y1="181.8" x2="545.6" y2="181.8"/><line x1="545.6" y1="181.8" x2="545.6" y2="220.1"/><line x1="545.6" y1="220.1" x2="517" y2="220.1"/><line x1="565.9" y1="217.5" x2="551.3" y2="217.5"/><line x1="551.3" y1="217.5" x2="551.3" y2="244.2"/><line x1="551.3" y1="244.2" x2="525.5" y2="244.2"/><line x1="565.9" y1="256.7" x2="525.5" y2="256.7"/><line x1="565.9" y1="289.5" x2="551.7" y2="289.5"/><line x1="551.7" y1="289.5" x2="551.7" y2="274.5"/><line x1="551.7" y1="274.5" x2="518" y2="274.5"/><line x1="565.9" y1="324.5" x2="544.3" y2="324.5"/><line x1="544.3" y1="324.5" x2="544.3" y2="291.6"/><line x1="544.3" y1="291.6" x2="500.5" y2="291.6"/><line x1="483.5" y1="400.2" x2="463.5" y2="400.2"/><line x1="461.8" y1="439.3" x2="456.1" y2="439.3"/><line x1="456.1" y1="439.3" x2="456.1" y2="428.4"/><line x1="456.1" y1="428.4" x2="443" y2="428.4"/><line x1="215.6" y1="362.8" x2="223" y2="362.8"/><line x1="223" y1="362.8" x2="223" y2="348.9"/><line x1="223" y1="348.9" x2="229.5" y2="348.9"/></g><path fill="none" stroke="#a5d3cf" stroke-width="1.25" stroke-dasharray="1.35 1.45" d="M229.5,348.9 H367.5"/></svg>
<div class="lb" style="left:207.9px;top:89.4px;width:74px;height:30.7px"><span class="st" style="top:3.8px">RR</span><span class="pl" style="top:4.5px;background:#8c1a3c">CNMP</span><span class="vl" style="top:3.2px;color:#8c1a3c">33%</span><span class="dl" style="top:17.4px;color:#14817f">(+7)</span><span class="pl" style="top:17.7px;background:#d97706">INDEX</span><span class="vl" style="top:17.3px;color:#d97706">40%</span></div><div class="lb" style="left:327px;top:119.7px;width:75.5px;height:30.7px"><span class="st" style="top:3.8px">AP</span><span class="pl" style="left:21.6px;top:4.5px;background:#14817f">CNMP</span><span class="vl" style="margin-right:1.2px;top:3.2px;color:#14817f">108%</span><span class="dl" style="top:16.6px;color:#b8b8b8;font-weight:bold">-</span><span class="pl" style="left:21.6px;top:17.7px;background:#b5b5b5">INDEX</span><span class="si" style="top:17.4px">s/i</span></div><div class="lb" style="left:416.25px;top:104.25px;width:73.75px;height:30.7px"><span class="st" style="top:3.8px">MA</span><span class="pl" style="top:4.5px;background:#d97706">CNMP</span><span class="vl" style="top:3.2px;color:#d97706">46%</span><span class="dl" style="top:16.6px;color:#b8b8b8;font-weight:bold">-</span><span class="pl" style="top:17.7px;background:#b5b5b5">INDEX</span><span class="si" style="top:17.4px">s/i</span></div><div class="lb" style="left:435px;top:140.75px;width:73.75px;height:30.7px"><span class="st" style="top:3.8px">PI</span><span class="pl" style="top:4.5px;background:#d97706">CNMP</span><span class="vl" style="top:3.2px;color:#d97706">37%</span><span class="dl" style="top:17.4px;color:#8c1a3c">(-14)</span><span class="pl" style="top:17.7px;background:#8c1a3c">INDEX</span><span class="vl" style="top:17.3px;color:#8c1a3c">23%</span></div><div class="lb" style="left:452.5px;top:177.7px;width:74.5px;height:30.7px"><span class="st" style="top:3.8px">CE</span><span class="pl" style="top:4.5px;background:#d97706">CNMP</span><span class="vl" style="top:3.2px;color:#d97706">34%</span><span class="dl" style="top:17.4px;color:#8c1a3c">(-1)</span><span class="pl" style="top:17.7px;background:#8c1a3c">INDEX</span><span class="vl" style="top:17.3px;color:#8c1a3c">33%</span></div><div class="lb" style="left:565.9px;top:166.5px;width:74.3px;height:30.7px"><span class="st" style="top:3.8px">RN</span><span class="pl" style="top:4.5px;background:#8c1a3c">CNMP</span><span class="vl" style="top:3.2px;color:#8c1a3c">19%</span><span class="dl" style="top:16.6px;color:#b8b8b8;font-weight:bold">-</span><span class="pl" style="top:17.7px;background:#b5b5b5">INDEX</span><span class="si" style="top:17.4px">s/i</span></div><div class="lb" style="left:565.9px;top:201.75px;width:74.3px;height:30.7px"><span class="st" style="top:3.8px">PB</span><span class="pl" style="top:4.5px;background:#8c1a3c">CNMP</span><span class="vl" style="top:3.2px;color:#8c1a3c">27%</span><span class="dl" style="top:17.4px;color:#14817f">(+19)</span><span class="pl" style="top:17.7px;background:#d97706">INDEX</span><span class="vl" style="top:17.3px;color:#d97706">46%</span></div><div class="lb" style="left:565.9px;top:237px;width:74.3px;height:30.7px"><span class="st" style="top:3.8px">PE</span><span class="pl" style="top:4.5px;background:#14817f">CNMP</span><span class="vl" style="top:3.2px;color:#14817f">68%</span><span class="dl" style="top:17.4px;color:#8c1a3c">(-38)</span><span class="pl" style="top:17.7px;background:#8c1a3c">INDEX</span><span class="vl" style="top:17.3px;color:#8c1a3c">30%</span></div><div class="lb" style="left:565.9px;top:272.5px;width:74.3px;height:30.7px"><span class="st" style="top:3.8px">AL</span><span class="pl" style="top:4.5px;background:#d97706">CNMP</span><span class="vl" style="top:3.2px;color:#d97706">38%</span><span class="dl" style="top:16.6px;color:#b8b8b8;font-weight:bold">-</span><span class="pl" style="top:17.7px;background:#b5b5b5">INDEX</span><span class="si" style="top:17.4px">s/i</span></div><div class="lb" style="left:565.9px;top:307.75px;width:74.3px;height:30.7px"><span class="st" style="top:3.8px">SE</span><span class="pl" style="top:4.5px;background:#d97706">CNMP</span><span class="vl" style="top:3.2px;color:#d97706">43%</span><span class="dl" style="top:17.4px;color:#14817f">(+21)</span><span class="pl" style="top:17.7px;background:#d97706">INDEX</span><span class="vl" style="top:17.3px;color:#d97706">64%</span></div><div class="lb" style="left:147px;top:200.6px;width:74.2px;height:30.7px"><span class="st" style="top:3.8px">AM</span><span class="pl" style="top:4.5px;background:#d97706">CNMP</span><span class="vl" style="top:3.2px;color:#d97706">46%</span><span class="dl" style="top:17.4px;color:#8c1a3c">(-5)</span><span class="pl" style="top:17.7px;background:#d97706">INDEX</span><span class="vl" style="top:17.3px;color:#d97706">41%</span></div><div class="lb" style="left:275px;top:205px;width:74px;height:30.7px"><span class="st" style="top:3.8px">PA</span><span class="pl" style="top:4.5px;background:#8c1a3c">CNMP</span><span class="vl" style="top:3.2px;color:#8c1a3c">27%</span><span class="dl" style="top:16.6px;color:#b8b8b8;font-weight:bold">-</span><span class="pl" style="top:17.7px;background:#b5b5b5">INDEX</span><span class="si" style="top:17.4px">s/i</span></div><div class="lb" style="left:30.2px;top:261.2px;width:74.4px;height:30.7px"><span class="st" style="top:3.8px">AC</span><span class="pl" style="top:4.5px;background:#d97706">CNMP</span><span class="vl" style="top:3.2px;color:#d97706">63%</span><span class="dl" style="top:17.4px;color:#8c1a3c">(-12)</span><span class="pl" style="top:17.7px;background:#d97706">INDEX</span><span class="vl" style="top:17.3px;color:#d97706">51%</span></div><div class="lb" style="left:139px;top:298.6px;width:74px;height:30.7px"><span class="st" style="top:3.8px">RO</span><span class="pl" style="top:4.5px;background:#14817f">CNMP</span><span class="vl" style="top:3.2px;color:#14817f">89%</span><span class="dl" style="top:17.4px;color:#14817f">(+3)</span><span class="pl" style="top:17.7px;background:#14817f">INDEX</span><span class="vl" style="top:17.3px;color:#14817f">92%</span></div><div class="lb" style="left:249.8px;top:302.9px;width:73.8px;height:30.7px"><span class="st" style="top:3.8px">MT</span><span class="pl" style="top:4.5px;background:#14817f">CNMP</span><span class="vl" style="top:3.2px;color:#14817f">80%</span><span class="dl" style="top:17.4px;color:#8c1a3c">(-9)</span><span class="pl" style="top:17.7px;background:#14817f">INDEX</span><span class="vl" style="top:17.3px;color:#14817f">71%</span></div><div class="lb" style="left:351.2px;top:274px;width:74.6px;height:30.7px"><span class="st" style="top:3.8px">TO</span><span class="pl" style="top:4.5px;background:#8c1a3c">CNMP</span><span class="vl" style="top:3.2px;color:#8c1a3c">22%</span><span class="dl" style="top:16.6px;color:#b8b8b8;font-weight:bold">-</span><span class="pl" style="top:17.7px;background:#b5b5b5">INDEX</span><span class="si" style="top:17.4px">s/i</span></div><div class="lb" style="left:431.8px;top:301px;width:74.2px;height:30.7px"><span class="st" style="top:3.8px">BA</span><span class="pl" style="top:4.5px;background:#8c1a3c">CNMP</span><span class="vl" style="top:3.2px;color:#8c1a3c">15%</span><span class="dl" style="top:17.4px;color:#8c1a3c">(-2)</span><span class="pl" style="top:17.7px;background:#8c1a3c">INDEX</span><span class="vl" style="top:17.3px;color:#8c1a3c">13%</span></div><div class="lb" style="left:141.3px;top:347.2px;width:74.3px;height:30.7px"><span class="st" style="top:3.8px">DF</span><span class="pl" style="left:21.6px;top:4.5px;background:#14817f">CNMP</span><span class="vl" style="margin-right:1.2px;top:3.2px;color:#14817f">104%</span><span class="dl" style="top:17.4px;color:#8c1a3c">(-8)</span><span class="pl" style="left:21.6px;top:17.7px;background:#14817f">INDEX</span><span class="vl" style="top:17.3px;color:#14817f">96%</span></div><div class="lb" style="left:320.3px;top:360.6px;width:74.5px;height:30.7px"><span class="st" style="top:3.8px">GO</span><span class="pl" style="top:4.5px;background:#14817f">CNMP</span><span class="vl" style="top:3.2px;color:#14817f">76%</span><span class="dl" style="top:16.6px;color:#b8b8b8;font-weight:bold">-</span><span class="pl" style="top:17.7px;background:#b5b5b5">INDEX</span><span class="si" style="top:17.8px;color:#555">&ndash;</span></div><div class="lb" style="left:412.2px;top:351.2px;width:74.2px;height:30.7px"><span class="st" style="top:3.8px">MG</span><span class="pl" style="top:4.5px;background:#d97706">CNMP</span><span class="vl" style="top:3.2px;color:#d97706">50%</span><span class="dl" style="top:16.6px;color:#b8b8b8;font-weight:bold">-</span><span class="pl" style="top:17.7px;background:#b5b5b5">INDEX</span><span class="si" style="top:17.4px">s/i</span></div><div class="lb" style="left:212.4px;top:393.6px;width:73.6px;height:30.7px"><span class="st" style="top:3.8px">MS</span><span class="pl" style="top:4.5px;background:#8c1a3c">CNMP</span><span class="vl" style="top:3.2px;color:#8c1a3c">16%</span><span class="dl" style="top:16.6px;color:#b8b8b8;font-weight:bold">-</span><span class="pl" style="top:17.7px;background:#b5b5b5">INDEX</span><span class="si" style="top:17.4px">s/i</span></div><div class="lb" style="left:483.5px;top:385.2px;width:74.5px;height:30.7px"><span class="st" style="top:3.8px">ES</span><span class="pl" style="top:4.5px;background:#d97706">CNMP</span><span class="vl" style="top:3.2px;color:#d97706">51%</span><span class="dl" style="top:17.4px;color:#14817f">(+7)</span><span class="pl" style="top:17.7px;background:#d97706">INDEX</span><span class="vl" style="top:17.3px;color:#d97706">58%</span></div><div class="lb" style="left:461.8px;top:423.2px;width:74.2px;height:30.7px"><span class="st" style="top:3.8px">RJ</span><span class="pl" style="top:4.5px;background:#8c1a3c">CNMP</span><span class="vl" style="top:3.2px;color:#8c1a3c">20%</span><span class="dl" style="top:17.4px;color:#14817f">(+3)</span><span class="pl" style="top:17.7px;background:#8c1a3c">INDEX</span><span class="vl" style="top:17.3px;color:#8c1a3c">23%</span></div><div class="lb" style="left:379.2px;top:439.2px;width:73.8px;height:30.7px"><span class="st" style="top:3.8px">SP</span><span class="pl" style="top:4.5px;background:#d97706">CNMP</span><span class="vl" style="top:3.2px;color:#d97706">52%</span><span class="dl" style="top:17.4px;color:#8c1a3c">(-21)</span><span class="pl" style="top:17.7px;background:#8c1a3c">INDEX</span><span class="vl" style="top:17.3px;color:#8c1a3c">31%</span></div><div class="lb" style="left:250.5px;top:439.1px;width:74.6px;height:30.7px"><span class="st" style="top:3.8px">PR</span><span class="pl" style="top:4.5px;background:#14817f">CNMP</span><span class="vl" style="top:3.2px;color:#14817f">84%</span><span class="dl" style="top:17.4px;color:#8c1a3c">(-12)</span><span class="pl" style="top:17.7px;background:#14817f">INDEX</span><span class="vl" style="top:17.3px;color:#14817f">72%</span></div><div class="lb" style="left:357.9px;top:479.8px;width:74.3px;height:30.7px"><span class="st" style="top:3.8px">SC</span><span class="pl" style="top:4.5px;background:#8c1a3c">CNMP</span><span class="vl" style="margin-right:1.3px;top:3.2px;color:#8c1a3c">1%</span><span class="dl" style="top:17.4px;color:#14817f">(+64)</span><span class="pl" style="top:17.7px;background:#d97706">INDEX</span><span class="vl" style="top:17.3px;color:#d97706">65%</span></div><div class="lb" style="left:320.2px;top:521.2px;width:74.7px;height:30.7px"><span class="st" style="top:3.8px">RS</span><span class="pl" style="top:4.5px;background:#d97706">CNMP</span><span class="vl" style="top:3.2px;color:#d97706">55%</span><span class="dl" style="top:16.6px;color:#b8b8b8;font-weight:bold">-</span><span class="pl" style="top:17.7px;background:#b5b5b5">INDEX</span><span class="si" style="top:17.4px">s/i</span></div><div class="lb" style="left:73px;top:411px;width:74.5px;height:41.5px"><span class="nat">NACIONAL</span><span class="st" style="top:14.6px">BR</span><span class="pl" style="top:15.3px;background:#d97706">CNMP</span><span class="vl" style="top:14px;color:#d97706">44%</span><span class="dl" style="top:28.2px;color:#8c1a3c">(-8)</span><span class="pl" style="top:28.5px;background:#d97706">INDEX</span><span class="vl" style="top:28.1px;color:#d97706">36%</span></div>
<div class="bar" style="left:83.5px;width:49px;background:#8c1a3c">BAIXO</div>
<div class="bar" style="left:132.5px;width:49px;background:#d97706">M&Eacute;DIO</div>
<div class="bar" style="left:181.5px;width:49px;background:#14817f">ALTO</div>
<div class="tick" style="left:83px"></div>
<div class="tick" style="left:132px"></div>
<div class="tick" style="left:181px"></div>
<div class="tick" style="left:230px"></div>
<div class="lg" style="left:85px">0%</div>
<div class="lg" style="left:134.5px">33%</div>
<div class="lg" style="left:183.5px">66%</div>
<div class="lg" style="left:232.5px">100%</div>
</body></html>
